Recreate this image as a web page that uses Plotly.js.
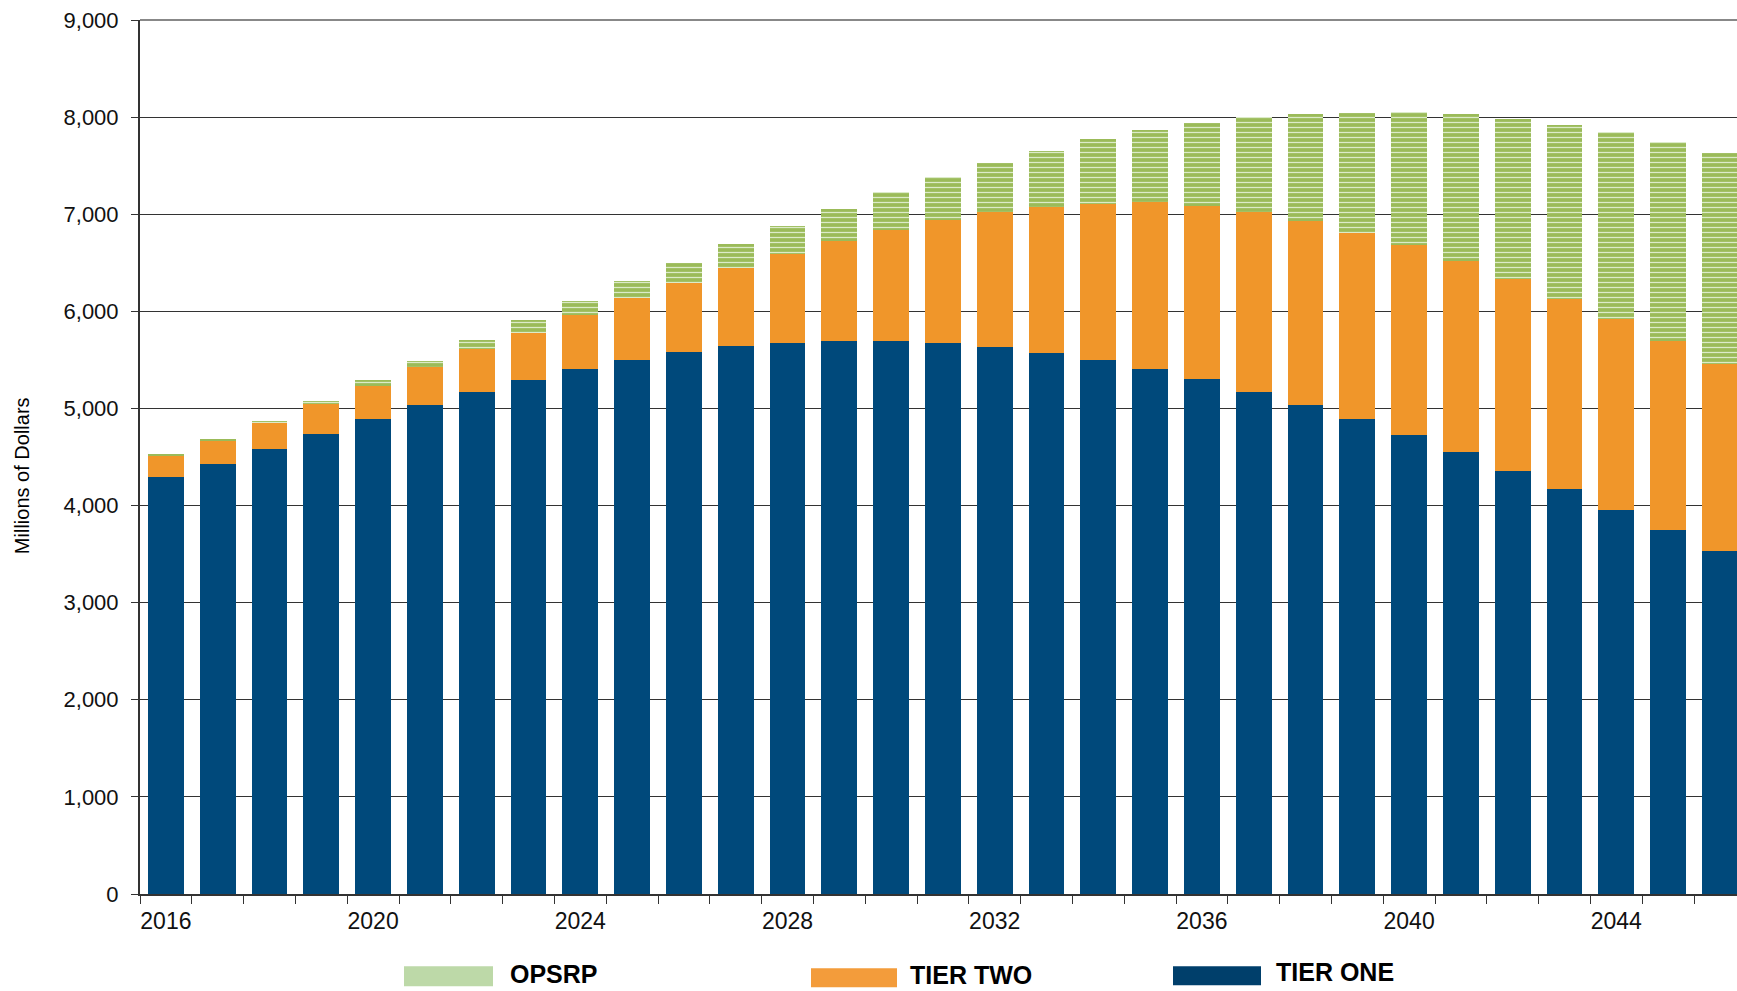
<!DOCTYPE html>
<html>
<head>
<meta charset="utf-8">
<script src="https://cdn.plot.ly/plotly-3.0.1.min.js"></script>
<style>
html,body{margin:0;padding:0;background:#fff;overflow:hidden;}
#chart{width:1737px;height:991px;}
</style>
</head>
<body>
<div id="chart"></div>
<script>
// ---- data ----
const years = [2016,2017,2018,2019,2020,2021,2022,2023,2024,2025,2026,2027,2028,2029,2030,2031,
               2032,2033,2034,2035,2036,2037,2038,2039,2040,2041,2042,2043,2044,2045,2046];
const tierOne = [4298,4429,4583,4737,4891,5031,5172,5288,5403,5496,5579,5641,5672,5696,5696,5672,
                 5633,5574,5502,5409,5303,5169,5035,4890,4726,4548,4360,4175,3959,3746,3533];
const tierTwo = [209,232,267,308,342,394,438,493,556,642,711,804,914,1024,1142,1273,
                 1395,1498,1608,1712,1783,1856,1893,1920,1954,1967,1970,1953,1957,1947,1920];
const opsrp   = [20,20,24,34,55,65,93,131,151,172,210,248,296,338,389,436,
                 495,578,660,742,849,975,1103,1233,1371,1512,1649,1793,1933,2050,2173];
const tickYears = [2016,2020,2024,2028,2032,2036,2040,2044];
const yTicks = [0,1000,2000,3000,4000,5000,6000,7000,8000,9000];
const seriesNames = ['OPSRP','TIER TWO','TIER ONE'];

const C_ONE = '#00497b', C_TWO = '#f0962a', C_OPS = '#9bbb59';

const traces = [
  {type:'bar', name:seriesNames[2], x:years, y:tierOne, marker:{color:C_ONE, line:{width:0}}},
  {type:'bar', name:seriesNames[1], x:years, y:tierTwo, marker:{color:C_TWO, line:{width:0}}},
  {type:'bar', name:seriesNames[0], x:years, y:opsrp,
   marker:{color:C_OPS, line:{width:0},
           pattern:{shape:'-', fgcolor:'#dcebc9', bgcolor:C_OPS, size:5, solidity:0.25}}}
];

// plot geometry (pixels) used for paper coordinates of the manual legend
const L = 140, T = 20, PW = 1597, PH = 873.7;
const px = v => (v - L) / PW;
const py = v => (T + PH - v) / PH;

const legendItems = [
  {name:seriesNames[0], color:'#bdd9a8', x0:404, x1:493, y0:966, y1:986, tx:509, ty:974},
  {name:seriesNames[1], color:'#f39c3b', x0:811, x1:897, y0:968, y1:987, tx:909, ty:975},
  {name:seriesNames[2], color:'#003f6b', x0:1173, x1:1261, y0:966, y1:985, tx:1275, ty:972}
];

const shapes = legendItems.map(it => ({
  type:'rect', xref:'paper', yref:'paper', x0:px(it.x0), x1:px(it.x1), y0:py(it.y1), y1:py(it.y0),
  fillcolor:it.color, line:{width:0}
}));
shapes.push({type:'line', xref:'paper', yref:'paper', x0:0, x1:1, y0:1, y1:1, line:{color:'#888', width:2}});

const annotations = legendItems.map(it => ({
  xref:'paper', yref:'paper', x:px(it.tx), y:py(it.ty), xanchor:'left', yanchor:'middle',
  text:'<b>'+it.name+'</b>', showarrow:false, borderpad:0,
  font:{family:'Arial, Liberation Sans, sans-serif', size:25, color:'#000'}
}));
annotations.push({
  xref:'paper', yref:'paper', x:px(22), y:py(475), xanchor:'center', yanchor:'middle',
  text:'Millions of Dollars', textangle:-90, showarrow:false,
  font:{family:'Arial, Liberation Sans, sans-serif', size:20, color:'#000'}
});

const layout = {
  width:1737, height:991,
  margin:{l:L, r:0, t:T, b:991 - T - PH},
  paper_bgcolor:'#fff', plot_bgcolor:'#fff',
  barmode:'stack', bargap:0.31,
  showlegend:false,
  font:{family:'Arial, Liberation Sans, sans-serif', color:'#111'},
  xaxis:{
    type:'linear', range:[2015.5, 2015.5 + PW/51.8],
    tickmode:'array', tickvals:tickYears, ticktext:tickYears.map(String),
    ticks:'', tickfont:{size:23, color:'#111'},
    showgrid:false, zeroline:false,
    showline:true, linecolor:'#333', linewidth:2,
    minor:{tick0:2015.5, dtick:1, ticks:'outside', ticklen:8, tickcolor:'#333', tickwidth:1, showgrid:false},
    ticklabelstandoff:5
  },
  yaxis:{
    range:[0,9000], tickmode:'array', tickvals:yTicks,
    ticktext:yTicks.map(v => v.toLocaleString('en-US')),
    ticks:'outside', ticklen:7, tickcolor:'#333', tickwidth:1,
    tickfont:{size:22, color:'#111'}, ticklabelstandoff:8,
    showgrid:true, gridcolor:'#333', gridwidth:1,
    zeroline:false, showline:true, linecolor:'#333', linewidth:2
  },
  shapes:shapes,
  annotations:annotations
};

Plotly.newPlot('chart', traces, layout, {staticPlot:true, displayModeBar:false});
</script>
</body>
</html>
